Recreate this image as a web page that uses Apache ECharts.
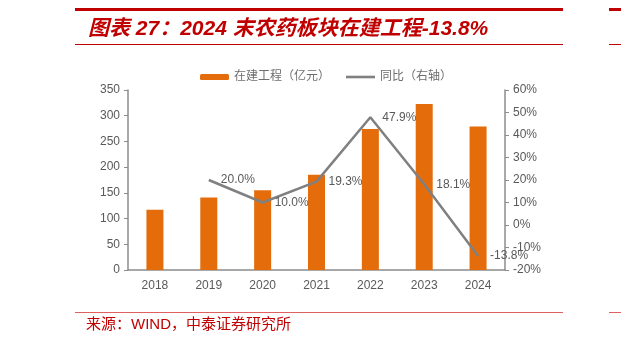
<!DOCTYPE html>
<html>
<head>
<meta charset="utf-8">
<script src="https://cdn.jsdelivr.net/npm/echarts@6/dist/echarts.min.js"></script>
<style>
  html, body { margin: 0; padding: 0; background: #fff; }
  #chart { width: 621px; height: 337px; }
</style>
</head>
<body>
<div id="chart"></div>
<script>
var years = ['2018', '2019', '2020', '2021', '2022', '2023', '2024'];
var construction = [117, 141, 155, 185, 274, 323, 279];
var yoy = [null, 20.0, 10.0, 19.3, 47.9, 18.1, -13.8];

var red = '#C00000';
var grey = '#595959';
var font = '"Liberation Sans", Arial, "Noto Sans CJK SC", sans-serif';

var chart = echarts.init(document.getElementById('chart'));

var option = {
    backgroundColor: '#fff',
    animation: false,
    textStyle: { fontFamily: font },
    graphic: [
        // red rules around title
        { type: 'rect', shape: { x: 75, y: 8, width: 488, height: 3 }, style: { fill: red } },
        { type: 'rect', shape: { x: 75, y: 44, width: 488, height: 1 }, style: { fill: red } },
        { type: 'rect', shape: { x: 609, y: 8, width: 12, height: 3 }, style: { fill: red } },
        { type: 'rect', shape: { x: 609, y: 44, width: 12, height: 1 }, style: { fill: red } },
        {
            type: 'text', left: 88, top: 19,
            style: {
                text: '图表 27：2024 末农药板块在建工程-13.8%',
                fill: red, font: 'italic bold 21px ' + font
            }
        },
        // source
        { type: 'rect', shape: { x: 75, y: 312, width: 488, height: 1 }, style: { fill: '#E06060' } },
        { type: 'rect', shape: { x: 609, y: 312, width: 12, height: 1 }, style: { fill: '#E06060' } },
        {
            type: 'text', left: 86, top: 317,
            style: { text: '来源：WIND，中泰证券研究所', fill: red, font: '15px ' + font }
        }
    ],
    legend: {
        left: 195, top: 66,
        itemWidth: 29, itemHeight: 6, itemGap: 16,
        textStyle: { color: '#6e6e6e', fontSize: 12 },
        data: [
            { name: '在建工程（亿元）' },
            { name: '同比（右轴）', icon: 'path://M0 0H100V9H0Z' }
        ]
    },
    grid: { left: 128, right: 116, top: 90, bottom: 67 },
    xAxis: {
        type: 'category',
        data: years,
        axisLine: { lineStyle: { color: '#8c8c8c', width: 1.5 } },
        axisTick: { lineStyle: { color: '#8c8c8c' }, length: 4 },
        axisLabel: { color: grey, fontSize: 12, margin: 10 }
    },
    yAxis: [
        {
            type: 'value', min: 0, max: 350, interval: 50,
            axisLine: { show: true, lineStyle: { color: '#8c8c8c', width: 1.5 } },
            axisTick: { show: true, length: 4, lineStyle: { color: '#8c8c8c' } },
            axisLabel: { color: grey, fontSize: 12, margin: 8 },
            splitLine: { show: false }
        },
        {
            type: 'value', min: -20, max: 60, interval: 10,
            axisLine: { show: true, lineStyle: { color: '#8c8c8c', width: 1.5 } },
            axisTick: { show: true, length: 4, lineStyle: { color: '#8c8c8c' } },
            axisLabel: { color: grey, fontSize: 12, margin: 8, formatter: '{value}%' },
            splitLine: { show: false }
        }
    ],
    series: [
        {
            name: '在建工程（亿元）',
            type: 'bar',
            data: construction,
            barWidth: 17,
            itemStyle: { color: '#E46C0A' }
        },
        {
            name: '同比（右轴）',
            type: 'line',
            yAxisIndex: 1,
            data: yoy,
            symbol: 'circle',
            symbolSize: 0,
            lineStyle: { color: '#808080', width: 2.5 },
            itemStyle: { color: '#808080' },
            label: {
                show: true, position: 'right', distance: 12,
                color: grey, fontSize: 12,
                formatter: function (p) { return p.value.toFixed(1) + '%'; }
            }
        }
    ]
};

chart.setOption(option);
</script>
</body>
</html>
